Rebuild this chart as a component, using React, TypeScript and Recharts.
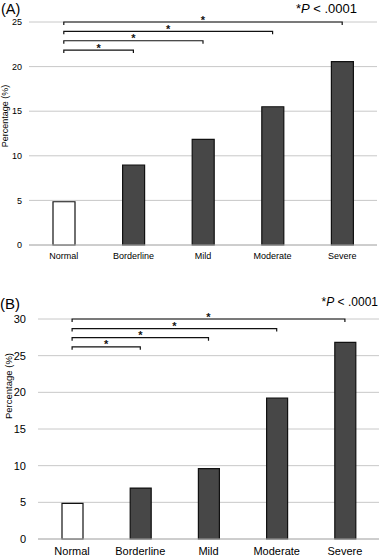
import React from 'react';
import { BarChart, Bar, XAxis, YAxis, CartesianGrid, Cell, ReferenceLine } from 'recharts';

const categories = ['Normal', 'Borderline', 'Mild', 'Moderate', 'Severe'];
const valuesA = [4.85, 8.97, 11.85, 15.5, 20.55];
const valuesB = [4.87, 6.95, 9.6, 19.2, 26.8];
const ticksA = [0, 5, 10, 15, 20, 25];
const ticksB = [0, 5, 10, 15, 20, 25, 30];
const bracketTargets = ['Borderline', 'Mild', 'Moderate', 'Severe'];
const bracketLevelsA = [21.85, 22.9, 23.95, 25];
const bracketLevelsB = [26.2, 27.45, 28.7, 30];
const FONT = '"Liberation Sans", Arial, sans-serif';

const dataA = categories.map((name, i) => ({ name, value: valuesA[i] }));
const dataB = categories.map((name, i) => ({ name, value: valuesB[i] }));

const bracketShape = (props: any) => {
  const { x1, y1, x2, y2 } = props;
  const mid = (x1 + x2) / 2;
  return (
    <g>
      <path d={`M${x1},${y1 + 3}L${x1},${y1}L${x2},${y2}L${x2},${y2 + 3}`} stroke="#111" strokeWidth={1.2} fill="none" />
      <text x={mid} y={y1 + 1.5} textAnchor="middle" fontSize={11} fontWeight="bold" fontFamily={FONT} fill="#111">*</text>
    </g>
  );
};

type PanelProps = {
  data: { name: string; value: number }[];
  ticks: number[];
  levels: number[];
  height: number;
  marginTop: number;
  marginRight: number;
  yWidth: number;
  xHeight: number;
  tickFont: number;
  yTickMargin: number;
  barSize: number;
};

function Panel(p: PanelProps) {
  const max = p.ticks[p.ticks.length - 1];
  return (
    <BarChart
      width={380}
      height={p.height}
      data={p.data}
      margin={{ top: p.marginTop, right: p.marginRight, left: 0, bottom: 0 }}
    >
      <CartesianGrid vertical={false} stroke="#c8c8c8" />
      <XAxis
        dataKey="name"
        height={p.xHeight}
        tickLine={false}
        axisLine={{ stroke: '#b8b8b8' }}
        tick={{ fontSize: p.tickFont, fill: '#000', fontFamily: FONT }}
        interval={0}
      />
      <YAxis
        width={p.yWidth}
        domain={[0, max]}
        ticks={p.ticks}
        tickLine={false}
        axisLine={false}
        tickMargin={p.yTickMargin}
        tick={{ fontSize: p.tickFont, fill: '#000', fontFamily: FONT }}
      />
      <Bar dataKey="value" barSize={p.barSize} stroke="#111" strokeWidth={1.2} isAnimationActive={false}>
        {p.data.map((d, i) => (
          <Cell key={d.name} fill={i === 0 ? '#ffffff' : '#474747'} />
        ))}
      </Bar>
      {bracketTargets.map((t, i) => (
        <ReferenceLine
          key={t}
          segment={[{ x: categories[0], y: p.levels[i] }, { x: t, y: p.levels[i] }]}
          ifOverflow="visible"
          shape={bracketShape}
        />
      ))}
    </BarChart>
  );
}

export default function App() {
  return (
    <div style={{ position: 'absolute', left: 0, top: 0, width: 380, height: 558, background: '#fff', fontFamily: FONT }}>
      <div style={{ position: 'absolute', left: 0, top: 0 }}>
        <Panel
          data={dataA}
          ticks={ticksA}
          levels={bracketLevelsA}
          height={280}
          marginTop={22}
          marginRight={3}
          yWidth={29}
          xHeight={35}
          tickFont={9}
          yTickMargin={1}
          barSize={22}
        />
      </div>
      <div style={{ position: 'absolute', left: 0, top: 280 }}>
        <Panel
          data={dataB}
          ticks={ticksB}
          levels={bracketLevelsB}
          height={278}
          marginTop={39}
          marginRight={1}
          yWidth={38}
          xHeight={19}
          tickFont={11}
          yTickMargin={6}
          barSize={21}
        />
      </div>
      <svg width={380} height={558} style={{ position: 'absolute', left: 0, top: 0, pointerEvents: 'none' }}>
        <text x={1} y={13.5} fontSize={14.5} fontFamily={FONT} fill="#000">(A)</text>
        <text x={357} y={12.5} fontSize={13} fontFamily={FONT} fill="#000" textAnchor="end">
          *<tspan fontStyle="italic">P</tspan> &lt; .0001
        </text>
        <text
          x={5}
          y={116}
          fontSize={9}
          fontFamily={FONT}
          fill="#000"
          textAnchor="middle"
          dominantBaseline="central"
          transform="rotate(-90 5 116)"
        >
          Percentage (%)
        </text>
        <text x={0} y={309} fontSize={15} fontFamily={FONT} fill="#000">(B)</text>
        <text x={378} y={306} fontSize={12} fontFamily={FONT} fill="#000" textAnchor="end">
          *<tspan fontStyle="italic">P</tspan> &lt; .0001
        </text>
        <text
          x={8}
          y={386}
          fontSize={9.5}
          fontFamily={FONT}
          fill="#000"
          textAnchor="middle"
          dominantBaseline="central"
          transform="rotate(-90 8 386)"
        >
          Percentage (%)
        </text>
      </svg>
    </div>
  );
}
